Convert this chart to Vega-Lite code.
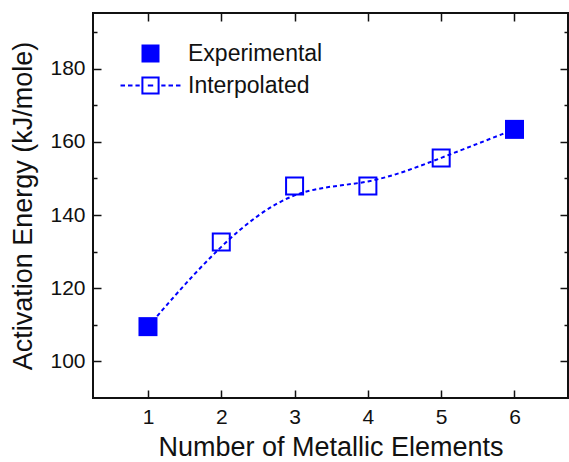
{
  "$schema": "https://vega.github.io/schema/vega-lite/v6.json",
  "width": 475,
  "height": 385,
  "autosize": {"type": "none"},
  "padding": {"left": 93, "top": 13, "right": 1, "bottom": 64},
  "background": "white",
  "config": {
    "font": "Liberation Sans",
    "view": {"stroke": "#111", "strokeWidth": 2},
    "axis": {
      "domain": false,
      "grid": false,
      "tickColor": "#111",
      "tickWidth": 1.5,
      "labelFont": "Liberation Sans",
      "labelColor": "#111",
      "titleFont": "Liberation Sans",
      "titleFontSize": 27,
      "titleFontWeight": "normal",
      "titleColor": "#111"
    },
    "legend": {
      "orient": "none",
      "legendX": 46,
      "legendY": 29,
      "padding": 0,
      "labelFont": "Liberation Sans",
      "labelFontSize": 23,
      "labelColor": "#111",
      "symbolSize": 324,
      "symbolStrokeWidth": 2,
      "labelOffset": 26,
      "rowPadding": 6
    }
  },
  "data": {
    "values": [
      {"n": 1, "energy": 109.5, "type": "Experimental"},
      {"n": 2, "energy": 132.6, "type": "Interpolated"},
      {"n": 3, "energy": 147.9, "type": "Interpolated"},
      {"n": 4, "energy": 147.9, "type": "Interpolated"},
      {"n": 5, "energy": 155.6, "type": "Interpolated"},
      {"n": 6, "energy": 163.4, "type": "Experimental"}
    ]
  },
  "resolve": {"axis": {"x": "independent", "y": "independent"}},
  "layer": [
    {
      "mark": {"type": "line", "interpolate": "basis", "color": "#0000ff", "strokeWidth": 2, "strokeDash": [4, 3]},
      "encoding": {
        "x": {"field": "n", "type": "quantitative",
          "scale": {"domain": [0.25, 6.73], "nice": false, "zero": false},
          "axis": {"orient": "bottom", "title": "Number of Metallic Elements", "values": [1, 2, 3, 4, 5, 6], "tickSize": -8, "labelPadding": 16, "labelFontSize": 21, "titleFontSize": 27, "titlePadding": 7}},
        "y": {"field": "energy", "type": "quantitative",
          "scale": {"domain": [90, 195.2], "nice": false, "zero": false},
          "axis": {"orient": "left", "title": "Activation Energy (kJ/mole)", "values": [100, 120, 140, 160, 180], "tickSize": -8, "labelPadding": 16, "labelFontSize": 21, "titleFontSize": 27, "titlePadding": 12}}
      }
    },
    {
      "transform": [{"filter": "datum.type === 'Experimental'"}],
      "mark": {"type": "point", "shape": "square", "filled": true, "color": "#0000ff", "size": 361, "opacity": 1, "strokeWidth": 0},
      "encoding": {
        "x": {"field": "n", "type": "quantitative", "scale": {"domain": [0.25, 6.73], "nice": false, "zero": false}, "axis": null},
        "y": {"field": "energy", "type": "quantitative", "scale": {"domain": [90, 195.2], "nice": false, "zero": false}, "axis": null}
      }
    },
    {
      "transform": [{"filter": "datum.type === 'Interpolated'"}],
      "mark": {"type": "point", "shape": "square", "filled": false, "color": "#0000ff", "size": 289, "opacity": 1, "strokeWidth": 2},
      "encoding": {
        "x": {"field": "n", "type": "quantitative", "scale": {"domain": [0.25, 6.73], "nice": false, "zero": false}, "axis": null},
        "y": {"field": "energy", "type": "quantitative", "scale": {"domain": [90, 195.2], "nice": false, "zero": false}, "axis": null}
      }
    },
    {
      "transform": [{"filter": "false"}],
      "mark": {"type": "point", "filled": true, "opacity": 1, "strokeWidth": 2},
      "encoding": {
        "x": {"field": "n", "type": "quantitative", "scale": {"domain": [0.25, 6.73], "nice": false, "zero": false},
          "axis": {"orient": "top", "title": null, "labels": false, "values": [1, 2, 3, 4, 5, 6], "tickSize": -8}},
        "y": {"field": "energy", "type": "quantitative", "scale": {"domain": [90, 195.2], "nice": false, "zero": false},
          "axis": {"orient": "right", "title": null, "labels": false, "values": [100, 120, 140, 160, 180], "tickSize": -8}},
        "shape": {"field": "type", "type": "nominal",
          "scale": {"domain": ["Experimental", "Interpolated"],
            "range": ["M-1,-1H1V1H-1Z", "M-0.9,-0.9H0.9V0.9H-0.9Z M-3.33,0H-2.83 M-2.5,0H-2.0 M-1.67,0H-1.2 M-0.3,0H0.3 M1.2,0H1.67 M2.0,0H2.5 M2.83,0H3.33"]},
          "legend": {"title": null}},
        "fill": {"field": "type", "type": "nominal",
          "scale": {"domain": ["Experimental", "Interpolated"], "range": ["#0000ff", "rgba(255,255,255,0)"]},
          "legend": {"title": null}},
        "stroke": {"field": "type", "type": "nominal",
          "scale": {"domain": ["Experimental", "Interpolated"], "range": ["rgba(0,0,255,0)", "#0000ff"]},
          "legend": {"title": null}}
      }
    },
    {
      "transform": [{"filter": "false"}],
      "mark": {"type": "point"},
      "encoding": {
        "x": {"field": "n", "type": "quantitative", "scale": {"domain": [0.25, 6.73], "nice": false, "zero": false}, "axis": null},
        "y": {"field": "energy", "type": "quantitative", "scale": {"domain": [90, 195.2], "nice": false, "zero": false},
          "axis": {"orient": "left", "title": null, "labels": false, "values": [110, 130, 150, 170, 190], "tickSize": -4}}
      }
    },
    {
      "transform": [{"filter": "false"}],
      "mark": {"type": "point"},
      "encoding": {
        "x": {"field": "n", "type": "quantitative", "scale": {"domain": [0.25, 6.73], "nice": false, "zero": false}, "axis": null},
        "y": {"field": "energy", "type": "quantitative", "scale": {"domain": [90, 195.2], "nice": false, "zero": false},
          "axis": {"orient": "right", "title": null, "labels": false, "values": [110, 130, 150, 170, 190], "tickSize": -4}}
      }
    }
  ]
}
